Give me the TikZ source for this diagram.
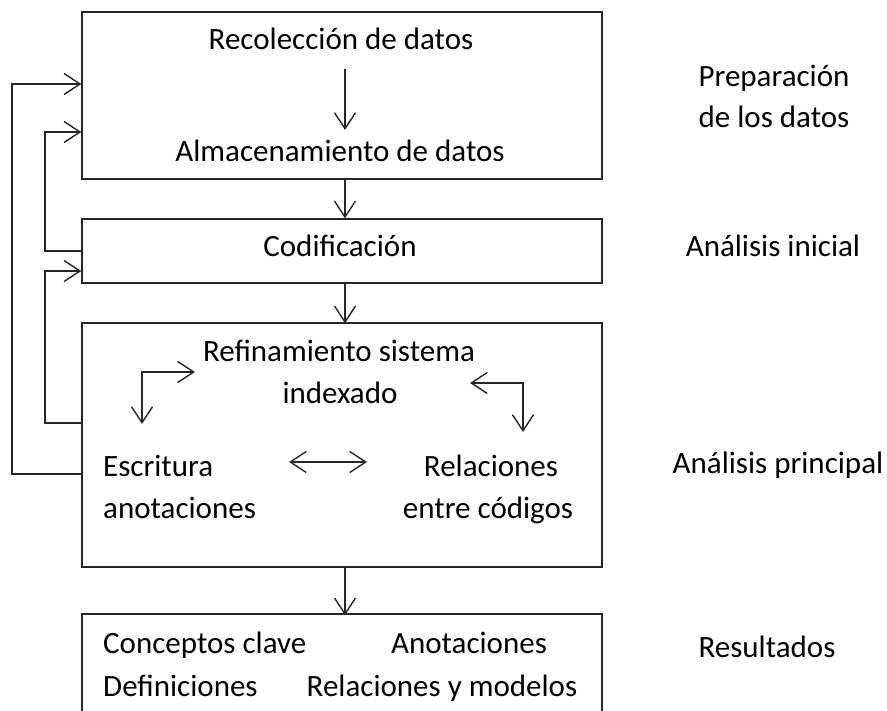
\documentclass[tikz,border=0pt]{standalone}
\usepackage{fontspec}
\setmainfont{Carlito}
\usetikzlibrary{arrows.meta}
\begin{document}
\begin{tikzpicture}[x=1pt,y=-1pt,
  box/.style={draw=black!85,line width=1.4pt,minimum width=520pt,inner sep=0pt},
  lbl/.style={anchor=base,inner sep=0pt,font=\fontsize{31}{37}\selectfont,text=black},
  lbll/.style={lbl,anchor=base west},
  arr/.style={draw=black!85,line width=1.4pt,-{Straight Barb[length=16pt,width=21pt,line width=1.4pt]}},
  darr/.style={draw=black!85,line width=1.4pt,{Straight Barb[length=16pt,width=21pt,line width=1.4pt]}-{Straight Barb[length=16pt,width=21pt,line width=1.4pt]}},
  line/.style={draw=black!85,line width=1.4pt}]
\clip (0,0) rectangle (887,711);
\fill[white] (0,0) rectangle (887,711);
% boxes
\node[box,minimum height=167pt] (b1) at (342,95.5) {};
\node[box,minimum height=64pt] (b2) at (342,251) {};
\node[box,minimum height=244pt] (b3) at (342,445) {};
\node[box,minimum height=180pt] (b4) at (342,704) {};
% box 1 text
\node[lbl] (recol) at (341,50) {Recolección de datos};
\node[lbl] (alm) at (340,162) {Almacenamiento de datos};
\coordinate (a1s) at (345,69);
\coordinate (a1e) at (345,130);
\draw[arr] (a1s) -- (a1e);
% box 2
\node[lbl] (cod) at (340,257) {Codificación};
% box 3
\node[lbl] (ref1) at (339,362) {Refinamiento sistema};
\node[lbl] (ref2) at (340,404) {indexado};
\node[lbll] (esc1) at (103,476) {Escritura};
\node[lbll] (esc2) at (103,518) {anotaciones};
\node[lbl] (rel1) at (491,476) {Relaciones};
\node[lbl] (rel2) at (488,518) {entre códigos};
\coordinate (c1a) at (195,372);
\coordinate (c1b) at (142,372);
\coordinate (c1c) at (142,424);
\draw[darr] (c1a) -- (c1b) -- (c1c);
\coordinate (c2a) at (470,383);
\coordinate (c2b) at (523,383);
\coordinate (c2c) at (523,432);
\draw[darr] (c2a) -- (c2b) -- (c2c);
\coordinate (h1) at (289,462);
\coordinate (h2) at (367,462);
\draw[darr] (h1) -- (h2);
% box 4
\node[lbll] (con) at (103,653) {Conceptos clave};
\node[lbll] (def) at (103,696) {Definiciones};
\node[lbl] (ano) at (469,653) {Anotaciones};
\node[lbl] (relm) at (442,696) {Relaciones y modelos};
% right labels
\node[lbl] (prep1) at (774,87) {Preparación};
\node[lbl] (prep2) at (774,128) {de los datos};
\node[lbl] (ai) at (773,257) {Análisis inicial};
\node[lbl] (ap) at (778,473) {Análisis principal};
\node[lbl] (res) at (767,657) {Resultados};
% main flow
\draw[arr] ([xshift=3pt]b1.south) -- ([xshift=3pt]b2.north);
\draw[arr] ([xshift=3pt]b2.south) -- ([xshift=3pt,yshift=-1pt]b3.north);
\draw[arr] ([xshift=3pt]b3.south) -- ([xshift=3pt,yshift=-2pt]b4.north);
% feedback loops
\draw[arr] (b3.west |- 0,474) -- (12,474) -- (12,84) -- (b1.west |- 0,84);
\draw[arr] (b2.west |- 0,251) -- (45,251) -- (45,132) -- (b1.west |- 0,132);
\draw[arr] (b3.west |- 0,423) -- (45,423) -- (45,271) -- (b2.west |- 0,271);
\end{tikzpicture}
\end{document}
